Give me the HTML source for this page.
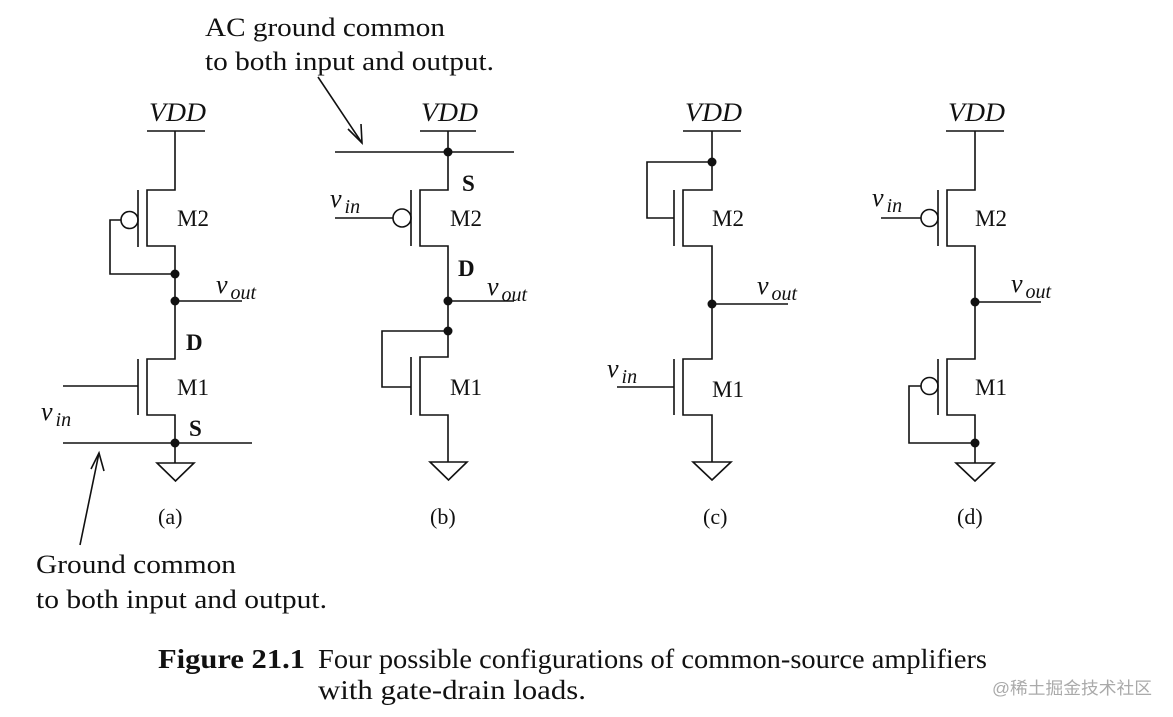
<!DOCTYPE html>
<html><head><meta charset="utf-8"><style>
html,body{margin:0;padding:0;background:#fff;}
svg{display:block;}
text{font-family:"Liberation Serif",serif;fill:#111;}
.i{font-style:italic;}
</style></head><body>
<svg width="1173" height="717" viewBox="0 0 1173 717" xmlns="http://www.w3.org/2000/svg">
<g stroke="#111" stroke-width="1.6" fill="none">
<!-- (a) -->
<path d="M147 131H205 M175 131V190H147V246H175V301 M138 190V247 M121 220H110V274H175 M175 301H242 M175 301V359H147V415H175V463 M138 359V415 M63 386H138 M63 443H252 M157 463H194L175.5 481Z"/>
<circle cx="129.5" cy="220" r="8.5"/>
<!-- (b) -->
<path d="M420 131H476 M448 131V190H420V246H448V357H420V415H448V462 M411 190V246 M335 152H514 M335 218H393 M448 301H514 M448 331H382V387H411 M411 357V415 M430 462H467L448.5 480Z"/>
<circle cx="402" cy="218" r="9"/>
<!-- (c) -->
<path d="M683 131H741 M712 131V190H683V246H712V359H683V415H712V462 M674 190V246 M712 162H647V218H674 M712 304H788 M674 359V415 M617 387H674 M693 462H731L712 480Z"/>
<!-- (d) -->
<path d="M946 131H1004 M975 131V190H947V246H975V359H947V415H975V463 M938 190V246 M881 218H921 M975 302H1041 M938 359V415 M921 386H909V443H975 M956 463H994L975 481Z"/>
<circle cx="929.5" cy="218" r="8.5"/>
<circle cx="929.5" cy="386" r="8.5"/>
<!-- arrows -->
<path d="M318 77L362 143 M80 545L99 453"/>
</g>
<g fill="#111">
<circle cx="175" cy="274" r="4.5"/><circle cx="175" cy="301" r="4.5"/><circle cx="175" cy="443" r="4.5"/>
<circle cx="448" cy="152" r="4.5"/><circle cx="448" cy="301" r="4.5"/><circle cx="448" cy="331" r="4.5"/>
<circle cx="712" cy="162" r="4.5"/><circle cx="712" cy="304" r="4.5"/>
<circle cx="975" cy="302" r="4.5"/><circle cx="975" cy="443" r="4.5"/>
</g>
<g stroke="#111" stroke-width="1.6" fill="none">
<path d="M348 129L362 143L361 124"/>
<path d="M91 469L99 453L104 471"/>
</g>
<!-- texts -->
<text x="205" y="36" font-size="26" textLength="240" lengthAdjust="spacingAndGlyphs">AC ground common</text>
<text x="205" y="70" font-size="26" textLength="289" lengthAdjust="spacingAndGlyphs">to both input and output.</text>
<text x="36" y="573" font-size="26" textLength="200" lengthAdjust="spacingAndGlyphs">Ground common</text>
<text x="36" y="608" font-size="26" textLength="291" lengthAdjust="spacingAndGlyphs">to both input and output.</text>

<g font-size="26">
<text x="149" y="121" class="i" textLength="57" lengthAdjust="spacingAndGlyphs">VDD</text>
<text x="421" y="121" class="i" textLength="57" lengthAdjust="spacingAndGlyphs">VDD</text>
<text x="685" y="121" class="i" textLength="57" lengthAdjust="spacingAndGlyphs">VDD</text>
<text x="948" y="121" class="i" textLength="57" lengthAdjust="spacingAndGlyphs">VDD</text>
</g>
<g font-size="23">
<text x="177" y="226">M2</text><text x="177" y="395">M1</text>
<text x="450" y="226">M2</text><text x="450" y="395">M1</text>
<text x="712" y="226">M2</text><text x="712" y="397">M1</text>
<text x="975" y="226">M2</text><text x="975" y="395">M1</text>
</g>
<g font-size="23" font-weight="bold">
<text x="186" y="350">D</text><text x="189" y="436">S</text>
<text x="462" y="191">S</text><text x="458" y="276">D</text>
</g>
<g font-size="26">
<text x="216" y="293" class="i">v<tspan font-size="20" dx="3" dy="6">out</tspan></text>
<text x="487" y="295" class="i">v<tspan font-size="20" dx="3" dy="6">out</tspan></text>
<text x="757" y="294" class="i">v<tspan font-size="20" dx="3" dy="6">out</tspan></text>
<text x="1011" y="292" class="i">v<tspan font-size="20" dx="3" dy="6">out</tspan></text>
<text x="41" y="420" class="i">v<tspan font-size="20" dx="3" dy="6">in</tspan></text>
<text x="330" y="207" class="i">v<tspan font-size="20" dx="3" dy="6">in</tspan></text>
<text x="607" y="377" class="i">v<tspan font-size="20" dx="3" dy="6">in</tspan></text>
<text x="872" y="206" class="i">v<tspan font-size="20" dx="3" dy="6">in</tspan></text>
</g>
<g font-size="22">
<text x="158" y="524">(a)</text><text x="430" y="524">(b)</text>
<text x="703" y="524">(c)</text><text x="957" y="524">(d)</text>
</g>
<text x="158" y="668" font-size="27" font-weight="bold" textLength="147" lengthAdjust="spacingAndGlyphs">Figure 21.1</text>
<text x="318" y="668" font-size="27" textLength="669" lengthAdjust="spacingAndGlyphs">Four possible configurations of common-source amplifiers</text>
<text x="318" y="699" font-size="27" textLength="268" lengthAdjust="spacingAndGlyphs">with gate-drain loads.</text>
<text x="992" y="694" font-size="17" style="font-family:'Liberation Sans','Noto Sans CJK SC',sans-serif;fill:#aaa" textLength="160" lengthAdjust="spacingAndGlyphs">@稀土掘金技术社区</text>
</svg>
</body></html>
